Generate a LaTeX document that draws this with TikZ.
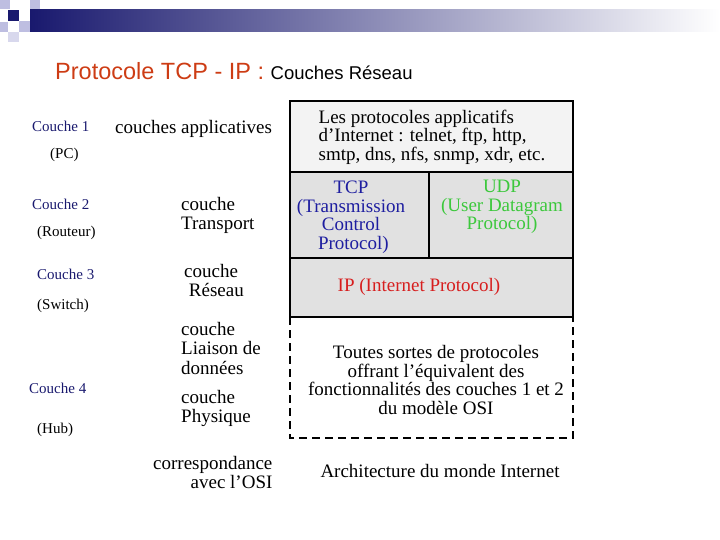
\documentclass[tikz,border=0pt]{standalone}
\usepackage{fontspec}
\setmainfont{Liberation Serif}
\newfontfamily\arial{Liberation Sans}
\definecolor{navy}{RGB}{25,25,110}
\definecolor{lav}{RGB}{190,190,225}
\definecolor{titlered}{RGB}{205,60,20}
\definecolor{boxgray}{RGB}{225,225,225}
\definecolor{boxlight}{RGB}{243,243,243}
\definecolor{udpgreen}{RGB}{60,200,60}
\definecolor{iprd}{RGB}{215,30,30}
\definecolor{tcpblue}{RGB}{30,30,160}
\begin{document}
\begin{tikzpicture}[x=1pt,y=-1pt,
  lab/.style={font=\fontsize{15}{17}\selectfont,text=navy,anchor=west,inner sep=0},
  sub/.style={font=\fontsize{15}{17}\selectfont,anchor=west,inner sep=0},
  mid/.style={font=\fontsize{19}{19.5}\selectfont,align=left,anchor=north west,inner sep=0},
  btxt/.style={font=\fontsize{19}{18.5}\selectfont,align=center,inner sep=0},
  lay/.style={draw=black,line width=2pt}]
\useasboundingbox (0,0) rectangle (720,540);
% header
\shade[left color=navy,right color=white] (30,10) rectangle (720,32);
\fill[lav] (0,0) rectangle (10,9);
\fill[lav] (30,0) rectangle (40,9);
\fill[navy] (8,10) rectangle (19,21);
\fill[lav] (0,22) rectangle (8,32);
\fill[lav] (19,21) rectangle (30,32);
\fill[lav!60] (8,32) rectangle (19,42);
\node[anchor=west,inner sep=0] (title) at (55,71) {\arial\fontsize{23.5}{25}\selectfont\textcolor{titlered}{Protocole TCP - IP :} \fontsize{18.5}{20}\selectfont Couches Réseau};
% left labels
\node[lab] (c1) at (32,126) {Couche 1};
\node[sub] (pc) at (50,155) {(PC)};
\node[lab] (c2) at (32,204) {Couche 2};
\node[sub] (rt) at (37,233) {(Routeur)};
\node[lab] (c3) at (37,274) {Couche 3};
\node[sub] (sw) at (37,306) {(Switch)};
\node[lab] (c4) at (29,388) {Couche 4};
\node[sub] (hub) at (37,430) {(Hub)};
% middle labels
\node[mid] (m1) at (115,120) {couches applicatives};
\node[mid] (m2) at (181,197) {couche\\Transport};
\node[mid] (m3) at (184,264) {couche\\\ Réseau};
\node[mid] (m4) at (181,322) {couche\\Liaison de\\données};
\node[mid] (m5) at (181,390) {couche\\Physique};
\node[mid,align=right] (m6) at (153,456) {correspondance\\avec l'OSI};
% boxes
\fill[boxlight] (290,101) rectangle (573,172);
\fill[boxgray] (290,172) rectangle (573,317);
\draw[lay] (290,101) rectangle (573,172);
\draw[lay] (290,172) rectangle (573,258);
\draw[lay] (429,172) -- (429,258);
\draw[lay] (290,258) rectangle (573,317);
\draw[line width=2pt,dash pattern=on 8pt off 5pt] (290,317) -- (290,438) -- (573,438) -- (573,317);
\node[btxt,align=left] (app) at (432,137) {Les protocoles applicatifs\\d'Internet : telnet, ftp, http,\\smtp, dns, nfs, snmp, xdr, etc.};
\node[btxt,text=tcpblue] (tcp) at (351,217) {TCP\\(Transmission\\Control\\\ Protocol)};
\node[btxt,text=udpgreen] (udp) at (502,207) {UDP\\(User Datagram\\Protocol)};
\node[btxt,text=iprd] (ip) at (419,287) {IP (Internet Protocol)};
\node[btxt] (phys) at (436,380) {Toutes sortes de protocoles\\offrant l'équivalent des\\fonctionnalités des couches 1 et 2\\du modèle OSI};
\node[btxt] (arch) at (440,471) {Architecture du monde Internet};
\end{tikzpicture}
\end{document}
